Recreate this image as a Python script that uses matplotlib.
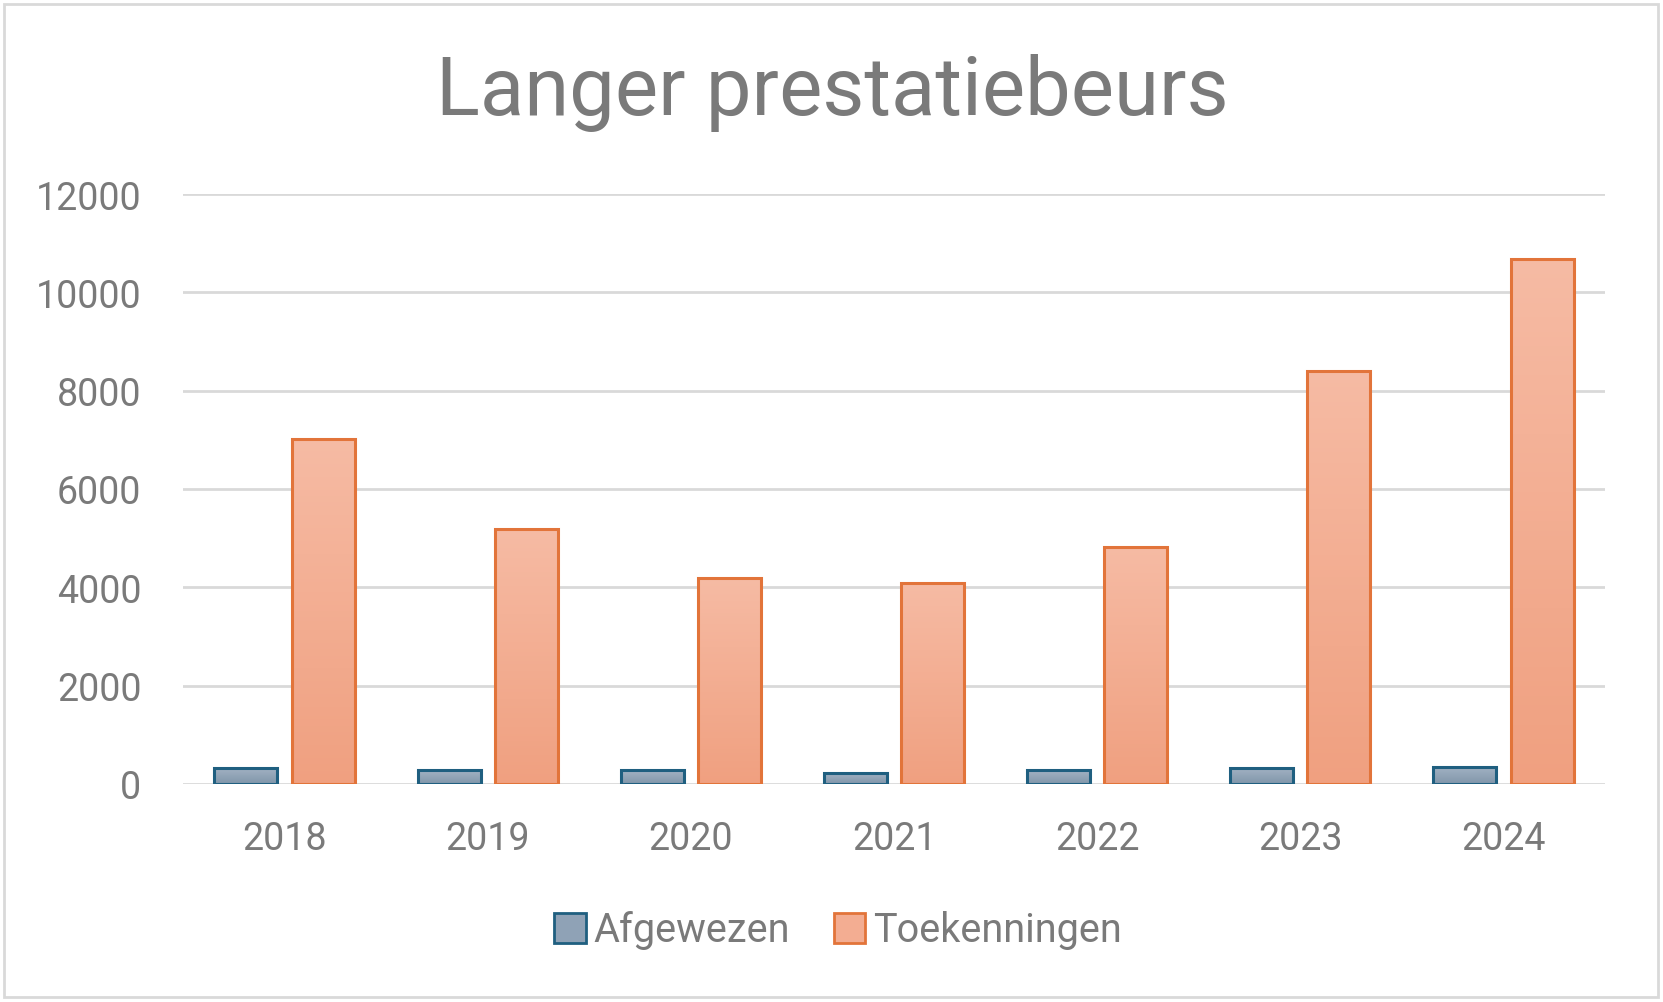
import matplotlib
matplotlib.use("Agg")
import matplotlib.pyplot as plt
import numpy as np
from matplotlib.patches import Rectangle, Patch
from matplotlib.colors import LinearSegmentedColormap

years = ["2018", "2019", "2020", "2021", "2022", "2023", "2024"]
afgewezen = [330, 280, 280, 230, 275, 335, 355]
toekenningen = [7020, 5180, 4180, 4080, 4830, 8390, 10680]
yticks = [0, 2000, 4000, 6000, 8000, 10000, 12000]
series_names = ["Afgewezen", "Toekenningen"]
title = "Langer prestatiebeurs"

FONT = ["Roboto", "DejaVu Sans"]
plt.rcParams['font.family'] = FONT
GRAY = "#7a7a7a"

W, H = 1663, 1003
fig = plt.figure(figsize=(W / 100, H / 100), dpi=100)
fig.patch.set_facecolor("white")
fig.patches.append(Rectangle((4 / W, 5 / H), 1654 / W, 993 / H, transform=fig.transFigure,
                             fill=False, edgecolor="#d9d9d9", linewidth=2))

ax = fig.add_axes([183 / W, 1 - 785 / H, (1605 - 183) / W, (785 - 195) / H])
for s in ax.spines.values():
    s.set_visible(False)
ax.set_yticks(yticks)
ax.grid(axis="y", color="#d9d9d9", linewidth=2)
ax.set_axisbelow(True)
ax.tick_params(axis="both", length=0, labelsize=27, labelcolor=GRAY)
ax.tick_params(axis="y", pad=30)
ax.tick_params(axis="x", pad=26)

x = np.arange(len(years))
bw = 0.31
off = 0.19

blue_cmap = LinearSegmentedColormap.from_list("b", ["#a3b3c4", "#8196aa"])
orange_cmap = LinearSegmentedColormap.from_list("o", ["#f6bba4", "#f0a080"])
grad = np.linspace(0, 1, 256).reshape(-1, 1)

def draw(xs, vals, cmap, edge):
    bars = ax.bar(xs, vals, width=bw, facecolor="none", edgecolor=edge, linewidth=2.2, zorder=3)
    for b in bars:
        x0, y0 = b.get_x(), b.get_y()
        w, h = b.get_width(), b.get_height()
        im = ax.imshow(grad, cmap=cmap, aspect="auto", extent=(x0, x0 + w, y0, y0 + h),
                       origin="upper", zorder=2, interpolation="bilinear")
        im.set_clip_path(b)
    return bars

draw(x - off, afgewezen, blue_cmap, "#1f5f80")
draw(x + off, toekenningen, orange_cmap, "#e2743a")
ax.set_xlim(-0.5, len(years) - 0.5)
ax.set_ylim(0, 12000)
ax.set_xticks(x)
ax.set_xticklabels(years)

renderer = fig.canvas.get_renderer()

t = fig.text(832 / W, 1 - 93 / H, title, ha="center", va="center", color="#7a7a7a", fontsize=60)
wpx = t.get_window_extent(renderer).width
t.set_fontsize(60 * 791 / wpx)

handles = [Patch(facecolor="#8fa2b6", edgecolor="#1f5f80", linewidth=2),
           Patch(facecolor="#f3ad92", edgecolor="#e2743a", linewidth=2)]
leg = fig.legend(handles, series_names, loc="center", bbox_to_anchor=(838 / W, 1 - 931 / H),
                 ncol=2, frameon=False, fontsize=28.5, handlelength=0.8, handleheight=0.8,
                 handletextpad=0.2, columnspacing=1.1, labelcolor=GRAY)

fig.savefig("out.png", dpi=100)
